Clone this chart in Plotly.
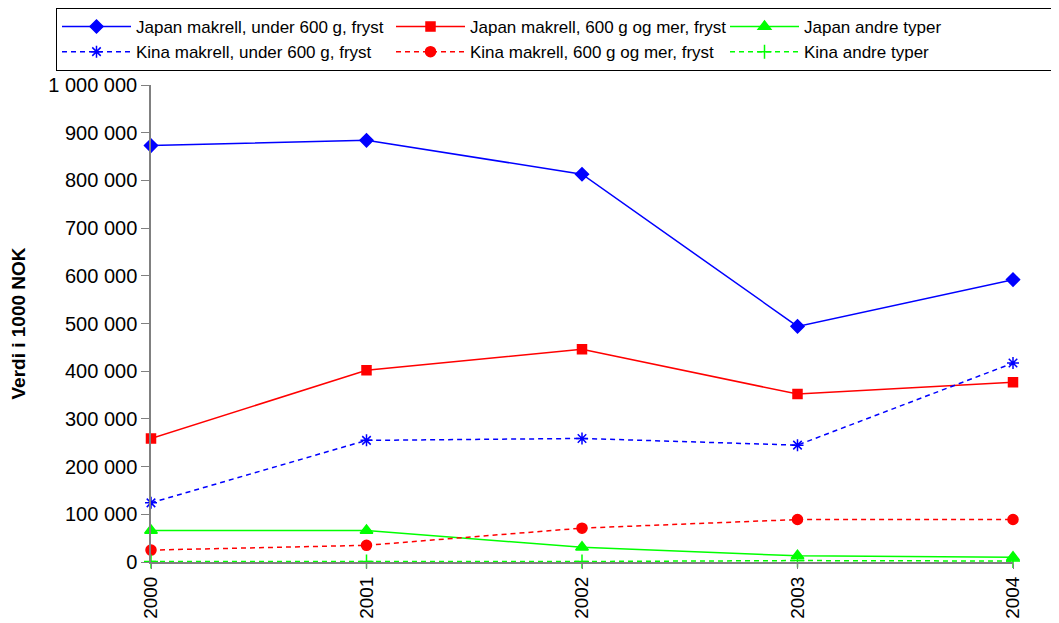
import plotly.graph_objects as go

years = [2000, 2001, 2002, 2003, 2004]
tick_labels = ["2000", "2001", "2002", "2003", "2004"]

japan_under600 = [873000, 884000, 813000, 494000, 592000]
japan_over600 = [259000, 402000, 446000, 352000, 377000]
japan_andre = [66000, 66000, 31000, 13000, 10000]
kina_under600 = [124000, 255000, 259000, 245000, 417000]
kina_over600 = [25000, 35000, 71000, 89000, 89000]
kina_andre = [1000, 1000, 1000, 3000, 2000]

names = [
    "Japan makrell, under 600 g, fryst",
    "Japan makrell, 600 g og mer, fryst",
    "Japan andre typer",
    "Kina makrell, under 600 g, fryst",
    "Kina makrell, 600 g og mer, fryst",
    "Kina andre typer",
]

series = [japan_under600, japan_over600, japan_andre, kina_under600, kina_over600, kina_andre]
colors = ["#0000FF", "#FF0000", "#00FF00", "#0000FF", "#FF0000", "#00FF00"]
symbols = ["diamond", "square", "triangle-up", "asterisk-open", "circle", "cross-thin-open"]
sizes = [10, 9, 11, 10, 10, 10]
dashes = ["solid", "solid", "solid", "5px,4px", "5px,4px", "5px,4px"]

fig = go.Figure()
for name, vals, c, s, sz, d in zip(names, series, colors, symbols, sizes, dashes):
    fig.add_trace(go.Scatter(
        x=years, y=vals, name=name, mode="lines+markers",
        line=dict(color=c, width=1.5, dash=d),
        marker=dict(symbol=s, size=sz, color=c, line=dict(color=c, width=1.5)),
        cliponaxis=False,
    ))

# page body has an 8px margin; figure is sized to fit the window
OFF = 8
W, H = 1059 - OFF, 623 - OFF
ML, MT = 151 - OFF, 85 - OFF
MR = W - (1013 - OFF)
MB = H - (562 - OFF)
PW, PH = W - ML - MR, H - MT - MB

fig.update_layout(
    width=W, height=H,
    paper_bgcolor="white", plot_bgcolor="white",
    margin=dict(l=ML, r=MR, t=MT, b=MB, autoexpand=False),
    font=dict(family="Liberation Sans, Arial, sans-serif", color="black"),
    separators=", ",
    showlegend=True,
    legend=dict(
        orientation="h",
        xref="paper", yref="paper",
        x=(56 - OFF - ML) / PW, y=1 + MT / PH, xanchor="left", yanchor="top",
        bordercolor="black", borderwidth=1,
        font=dict(size=17),
        itemwidth=69,
        entrywidth=250,
        tracegroupgap=0,
    ),
    xaxis=dict(
        range=[2000, 2004],
        tickmode="array", tickvals=years, ticktext=tick_labels,
        tickangle=-90,
        showline=True, linecolor="#808080", linewidth=2,
        ticks="outside", ticklen=5, tickcolor="#808080",
        showgrid=False, zeroline=False,
        tickfont=dict(size=19),
    ),
    yaxis=dict(
        range=[0, 1000000],
        tickmode="linear", tick0=0, dtick=100000,
        tickformat=",d",
        showline=True, linecolor="#808080", linewidth=1.5,
        ticks="outside", ticklen=8, tickcolor="#808080",
        showgrid=False, zeroline=False,
        tickfont=dict(size=20),
        title=dict(text="<b>Verdi i 1000 NOK</b>", font=dict(size=19), standoff=19),
    ),
)

fig.write_html("out.html")
